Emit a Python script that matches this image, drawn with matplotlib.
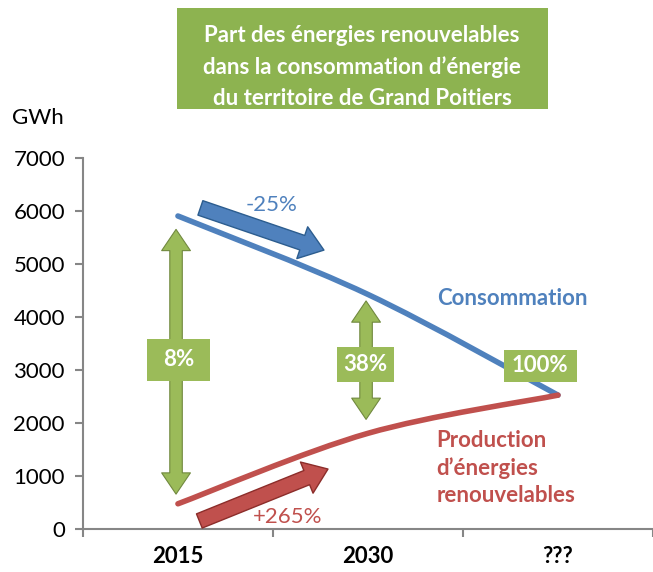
import matplotlib.pyplot as plt
from matplotlib.path import Path
from matplotlib.patches import PathPatch, FancyArrowPatch, Rectangle
import numpy as np

plt.rcParams['font.family'] = ['Lato', 'DejaVu Sans']

# données
annees = ['2015', '2030', '???']
consommation = [5900, 4420, 2520]
production = [470, 1800, 2520]
parts = ['8%', '38%', '100%']

bleu = '#4f81bd'
rouge = '#c0504d'
vert = '#9bbb59'
vert_fonce = '#71893f'
gris = '#868686'

PX_Y = 53.0      # pixels pour 1000 GWh
Y0 = 528.7       # pixel de la ligne 0
PX_X = 190.3     # pixels par catégorie
X0 = 83.0


def px2val(ypx):
    return (Y0 - ypx) / PX_Y * 1000


def px2cat(xpx):
    return (xpx - X0) / PX_X


def courbe_lissee(xs, ys):
    # segments de Bézier façon "ligne lissée" d'Excel
    pts = np.column_stack([xs, ys]).astype(float)
    n = len(pts)
    verts = [pts[0]]
    codes = [Path.MOVETO]
    for i in range(n - 1):
        p0 = pts[max(i - 1, 0)]
        p1 = pts[i]
        p2 = pts[i + 1]
        p3 = pts[min(i + 2, n - 1)]
        c1 = p1 + (p2 - p0) / 6.0
        c2 = p2 - (p3 - p1) / 6.0
        verts += [c1, c2, p2]
        codes += [Path.CURVE4] * 3
    return Path(verts, codes)


fig = plt.figure(figsize=(6.53, 5.72), dpi=100)
ax = fig.add_axes([0.127, 0.0757, 0.873, 0.6486])

xs = np.arange(len(annees)) + 0.5
ax.set_xlim(0, 3)
ax.set_ylim(0, 7000)

for vals, coul in [(consommation, bleu), (production, rouge)]:
    ax.add_patch(PathPatch(courbe_lissee(xs, vals), facecolor='none',
                           edgecolor=coul, lw=4, capstyle='round', zorder=3))

# axes
for s in ['top', 'right']:
    ax.spines[s].set_visible(False)
for s in ['left', 'bottom']:
    ax.spines[s].set_color(gris)
    ax.spines[s].set_linewidth(1.5)
ax.set_yticks(range(0, 7001, 1000))
ax.set_yticklabels([str(v) for v in range(0, 7001, 1000)], fontsize=16)
ax.set_xticks([0, 1, 2, 3])
ax.set_xticklabels([])
ax.tick_params(axis='both', color=gris, width=1.5, length=6)
ax.tick_params(axis='y', pad=7)
for x, lab in zip(xs, annees):
    ax.text(x, -0.075, lab, transform=ax.get_xaxis_transform(), ha='center',
            va='center', fontsize=16, fontweight='bold')

fig.text(0.018, 0.793, 'GWh', fontsize=16, va='center')

# doubles flèches vertes
fleches = [(0, 600, 5700, 360), (1, 2010, 4350, 364)]
for i, bas, haut, ypx in fleches:
    ym = px2val(ypx)
    for fin in (bas, haut):
        ax.add_patch(FancyArrowPatch((xs[i] - 0.01, ym), (xs[i] - 0.01, fin),
                                     arrowstyle='simple,head_length=1.7,head_width=2.3,tail_width=1.0',
                                     mutation_scale=9, facecolor=vert,
                                     edgecolor=vert_fonce, lw=0.8, zorder=4))

# étiquettes vertes (centre x, centre y, largeur, hauteur en pixels)
boites = [(178.5, 360, 63, 42), (366, 364.5, 58, 35), (541, 366, 73, 32)]
for (cx, cy, w, h), txt in zip(boites, parts):
    ax.add_patch(Rectangle((px2cat(cx - w / 2), px2val(cy + h / 2)),
                           w / PX_X, h / PX_Y * 1000, facecolor=vert,
                           edgecolor='none', zorder=5))
    ax.text(px2cat(cx), px2val(cy), txt, ha='center', va='center',
            color='white', fontsize=16, fontweight='bold', zorder=6)

# flèches d'évolution
ax.add_patch(FancyArrowPatch((px2cat(198), px2val(207)), (px2cat(327), px2val(251)),
                             arrowstyle='simple,head_length=1.5,head_width=2.2,tail_width=1.0',
                             mutation_scale=11, facecolor=bleu,
                             edgecolor='#2c5d8f', lw=1, zorder=4))
ax.add_patch(FancyArrowPatch((px2cat(197), px2val(522)), (px2cat(331), px2val(468)),
                             arrowstyle='simple,head_length=1.5,head_width=2.2,tail_width=1.0',
                             mutation_scale=11, facecolor=rouge,
                             edgecolor='#8c2d2a', lw=1, zorder=4))
ax.text(px2cat(272), px2val(205), '-25%', color=bleu, fontsize=16,
        ha='center', va='center')
ax.text(px2cat(288), px2val(517), '+265%', color=rouge, fontsize=16,
        ha='center', va='center')

ax.text(px2cat(438), px2val(298), 'Consommation', color=bleu, fontsize=16,
        fontweight='bold', ha='left', va='center')
ax.text(px2cat(437), px2val(430), 'Production\nd\u2019énergies\nrenouvelables',
        color=rouge, fontsize=16, fontweight='bold', ha='left', va='top',
        linespacing=1.35)

# titre dans un encadré vert
fig.patches.append(Rectangle((177 / 653, 1 - 109 / 572), 371 / 653, 101 / 572,
                             transform=fig.transFigure, facecolor='#8db350',
                             edgecolor='none'))
fig.text(362 / 653, 1 - 67 / 572,
         'Part des énergies renouvelables\ndans la consommation d\u2019énergie\n'
         'du territoire de Grand Poitiers',
         color='white', fontsize=16, fontweight='bold', ha='center', va='center',
         linespacing=1.58)

fig.savefig('out.png', dpi=100)
